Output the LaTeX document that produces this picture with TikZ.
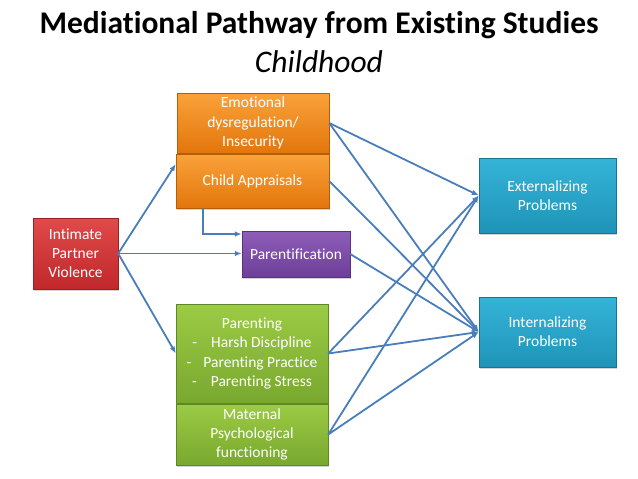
\documentclass[tikz,border=0pt]{standalone}
\usepackage{fontspec}
\setmainfont[Ligatures={NoCommon}]{Carlito}
\usetikzlibrary{arrows.meta,shadows,calc}
\definecolor{arrowblue}{HTML}{4A7EBB}
\definecolor{orgtop}{HTML}{FAA23A}
\definecolor{orgbot}{HTML}{E2760C}
\definecolor{redtop}{HTML}{E04A4A}
\definecolor{redbot}{HTML}{C0282B}
\definecolor{purtop}{HTML}{8D5DB8}
\definecolor{purbot}{HTML}{6E3F98}
\definecolor{grntop}{HTML}{9CCB45}
\definecolor{grnbot}{HTML}{78A82E}
\definecolor{blutop}{HTML}{35B4D8}
\definecolor{blubot}{HTML}{1F93B8}
\begin{document}
\begin{tikzpicture}[x=1pt,y=-1pt,
  box/.style={rectangle, inner sep=1pt, align=center, text=white,
    font=\fontsize{15.5}{19.2}\selectfont, drop shadow={shadow xshift=1pt,shadow yshift=-1.5pt,opacity=0.35}},
  orangebox/.style={box, top color=orgtop, bottom color=orgbot, draw=orgbot!80!black, line width=0.4pt},
  redbox/.style={box, top color=redtop, bottom color=redbot, draw=redbot!80!black, line width=0.4pt},
  purplebox/.style={box, top color=purtop, bottom color=purbot, draw=purbot!80!black, line width=0.4pt},
  greenbox/.style={box, top color=grntop, bottom color=grnbot, draw=grnbot!80!black, line width=0.4pt},
  bluebox/.style={box, top color=blutop, bottom color=blubot, draw=blubot!80!black, line width=0.4pt},
  conn/.style={draw=arrowblue, line width=1.8pt, -{Latex[length=7pt,width=5.5pt]}}
]
\useasboundingbox (0,0) rectangle (638,479);

\node[font=\fontsize{31.5}{34}\selectfont\bfseries] (title) at (319,25) {Mediational Pathway from Existing Studies};
\node[font=\fontsize{31.5}{34}\selectfont\itshape] (sub) at (319,62) {Childhood};

\node[redbox, minimum width=85pt, minimum height=71pt] (ipv) at (75.5,253.5) {Intimate\\Partner\\Violence};
\node[orangebox, minimum width=152pt, minimum height=60pt] (emo) at (253,123) {Emotional\\dysregulation/\\Insecurity};
\node[orangebox, minimum width=153pt, minimum height=54pt] (child) at (252.5,181) {Child Appraisals};
\node[purplebox, minimum width=108pt, minimum height=46pt] (parent) at (296,254) {Parentification};
\node[greenbox, minimum width=152pt, minimum height=99pt] (parenting) at (252,353.5)
  {Parenting\\-\hspace{14pt}Harsh Discipline\\-\hspace{12pt}Parenting Practice\\-\hspace{14pt}Parenting Stress};
\node[greenbox, minimum width=152pt, minimum height=61pt] (maternal) at (252,434.5) {Maternal\\Psychological\\functioning};
\node[bluebox, minimum width=137pt, minimum height=75pt] (ext) at (547.5,195.5) {Externalizing\\Problems};
\node[bluebox, minimum width=137pt, minimum height=70pt] (int) at (547.5,332) {Internalizing\\Problems};

\draw[conn] (ipv.east) -- ([yshift=17pt]child.west);
\draw[conn] (ipv.east) -- (ipv.east -| parent.west);
\draw[conn] (ipv.east) -- (parenting.west);
\draw[conn] ([xshift=-49.5pt]child.south) |- ([yshift=20pt]parent.west);

\draw[conn] (emo.east) -- (ext.west);
\draw[conn] (emo.east) -- (int.west);
\draw[conn] (child.east) -- (int.west);
\draw[conn] (parent.east) -- (int.west);
\draw[conn] (parenting.east) -- (ext.west);
\draw[conn] (parenting.east) -- (int.west);
\draw[conn] (maternal.east) -- (ext.west);
\draw[conn] (maternal.east) -- (int.west);
\end{tikzpicture}
\end{document}
